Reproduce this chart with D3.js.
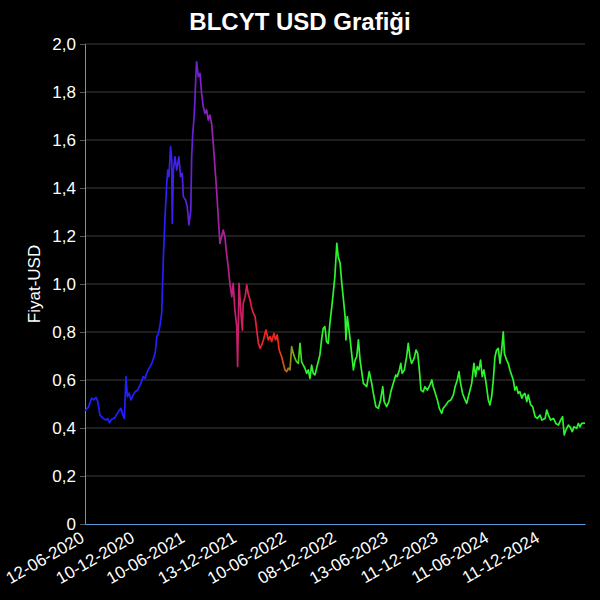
<!DOCTYPE html>
<html><head><meta charset="utf-8">
<script src="https://cdn.jsdelivr.net/npm/d3@7/dist/d3.min.js"></script>
<style>html,body{margin:0;padding:0;background:#000;}svg{display:block;}</style>
</head><body>
<svg id="chart" width="600" height="600"></svg>
<script>
const chartTitle = "BLCYT USD Grafiği";
const yAxisTitle = "Fiyat-USD";
const xTickLabels = ["12-06-2020","10-12-2020","10-06-2021","13-12-2021","10-06-2022","08-12-2022","13-06-2023","11-12-2023","11-06-2024","11-12-2024"];
const yTicks = [0,0.2,0.4,0.6,0.8,1.0,1.2,1.4,1.6,1.8,2.0];
const xDomain = ["2020-06-12","2025-05-22"];

const dates = ["2020-06-12","2020-06-24","2020-07-06","2020-07-14","2020-07-22","2020-07-28","2020-08-05","2020-08-17","2020-08-26","2020-09-02",
"2020-09-08","2020-09-16","2020-09-28","2020-10-10","2020-10-20","2020-10-26","2020-11-01","2020-11-07","2020-11-12","2020-11-18",
"2020-11-25","2020-12-03","2020-12-10","2020-12-19","2020-12-25","2021-01-03","2021-01-08","2021-01-15","2021-01-21","2021-01-26",
"2021-02-02","2021-02-08","2021-02-14","2021-02-20","2021-02-23","2021-02-26","2021-03-04","2021-03-10","2021-03-16","2021-03-22",
"2021-03-28","2021-04-03","2021-04-07","2021-04-11","2021-04-17","2021-04-21","2021-04-23","2021-04-27","2021-05-03","2021-05-09",
"2021-05-17","2021-05-23","2021-05-29","2021-06-02","2021-06-10","2021-06-16","2021-06-22","2021-06-29","2021-07-02","2021-07-06",
"2021-07-10","2021-07-14","2021-07-17","2021-07-20","2021-07-26","2021-08-01","2021-08-07","2021-08-13","2021-08-19","2021-08-25",
"2021-08-31","2021-09-06","2021-09-12","2021-09-18","2021-09-24","2021-09-30","2021-10-06","2021-10-12","2021-10-18","2021-10-24",
"2021-10-30","2021-11-05","2021-11-11","2021-11-17","2021-11-24","2021-11-29","2021-12-05","2021-12-12","2021-12-15","2021-12-20",
"2021-12-26","2022-01-01","2022-01-04","2022-01-11","2022-01-17","2022-01-22","2022-01-29","2022-02-04","2022-02-10","2022-02-16",
"2022-02-22","2022-02-28","2022-03-06","2022-03-12","2022-03-18","2022-03-27","2022-04-05","2022-04-11","2022-04-17","2022-04-25",
"2022-05-01","2022-05-07","2022-05-14","2022-05-23","2022-05-29","2022-06-04","2022-06-10","2022-06-16","2022-06-22","2022-06-28",
"2022-07-04","2022-07-10","2022-07-16","2022-07-22","2022-07-28","2022-08-03","2022-08-09","2022-08-15","2022-08-21","2022-08-27",
"2022-09-02","2022-09-08","2022-09-14","2022-09-20","2022-09-26","2022-10-02","2022-10-08","2022-10-14","2022-10-20","2022-10-26",
"2022-11-01","2022-11-07","2022-11-13","2022-11-20","2022-11-25","2022-12-01","2022-12-08","2022-12-13","2022-12-20","2022-12-26",
"2022-12-31","2023-01-07","2023-01-10","2023-01-15","2023-01-21","2023-01-25","2023-02-06","2023-02-12","2023-02-18","2023-02-24",
"2023-03-02","2023-03-14","2023-03-26","2023-04-04","2023-04-13","2023-04-19","2023-04-28","2023-05-07","2023-05-15","2023-05-23",
"2023-05-28","2023-06-06","2023-06-14","2023-06-21","2023-06-30","2023-07-09","2023-07-14","2023-07-22","2023-07-27","2023-08-01",
"2023-08-09","2023-08-17","2023-08-23","2023-08-29","2023-09-04","2023-09-13","2023-09-20","2023-09-26","2023-10-02","2023-10-08",
"2023-10-16","2023-10-22","2023-10-31","2023-11-09","2023-11-16","2023-11-21","2023-11-27","2023-12-06","2023-12-13","2023-12-22",
"2023-12-27","2024-01-06","2024-01-14","2024-01-24","2024-02-02","2024-02-08","2024-02-16","2024-02-22","2024-02-28","2024-03-06",
"2024-03-15","2024-03-21","2024-03-27","2024-04-02","2024-04-08","2024-04-16","2024-04-22","2024-04-28","2024-05-04","2024-05-10",
"2024-05-16","2024-05-22","2024-05-30","2024-06-07","2024-06-13","2024-06-19","2024-06-25","2024-07-01","2024-07-07","2024-07-13",
"2024-07-19","2024-07-25","2024-07-31","2024-08-04","2024-08-12","2024-08-18","2024-08-24","2024-08-30","2024-09-05","2024-09-11",
"2024-09-17","2024-09-23","2024-09-29","2024-10-06","2024-10-11","2024-10-17","2024-10-24","2024-10-29","2024-11-07","2024-11-14",
"2024-11-23","2024-12-01","2024-12-11","2024-12-17","2024-12-29","2025-01-04","2025-01-10","2025-01-18","2025-01-28","2025-02-06",
"2025-02-15","2025-02-23","2025-03-02","2025-03-08","2025-03-14","2025-03-23","2025-03-29","2025-04-06","2025-04-12","2025-04-22",
"2025-04-28","2025-05-04","2025-05-10","2025-05-22"];

const prices = [0.472,0.486,0.524,0.517,0.528,0.51,0.454,0.44,0.433,0.439,
0.422,0.436,0.443,0.468,0.482,0.457,0.44,0.614,0.53,0.545,
0.517,0.538,0.551,0.558,0.572,0.596,0.614,0.607,0.628,0.642,
0.656,0.669,0.69,0.711,0.739,0.78,0.794,0.83,0.88,1.114,
1.28,1.419,1.475,1.447,1.572,1.517,1.253,1.475,1.53,1.475,
1.53,1.447,1.461,1.364,1.35,1.322,1.246,1.308,1.53,1.628,
1.683,1.767,1.864,1.926,1.864,1.878,1.794,1.739,1.711,1.725,
1.683,1.704,1.669,1.586,1.489,1.392,1.28,1.169,1.197,1.225,
1.197,1.128,1.072,1.003,0.947,1.003,0.892,0.822,0.656,1.003,
0.892,0.808,0.92,0.947,0.996,0.96,0.933,0.899,0.878,0.864,
0.808,0.753,0.732,0.746,0.767,0.808,0.767,0.781,0.76,0.794,
0.767,0.788,0.725,0.697,0.669,0.642,0.635,0.649,0.642,0.739,
0.711,0.69,0.676,0.669,0.753,0.676,0.662,0.649,0.628,0.642,
0.607,0.662,0.628,0.621,0.649,0.676,0.704,0.767,0.815,0.822,
0.76,0.753,0.836,0.906,0.961,1.03,1.169,1.114,1.086,1.003,
0.947,0.864,0.767,0.864,0.808,0.77,0.642,0.683,0.697,0.767,
0.683,0.586,0.572,0.635,0.586,0.544,0.489,0.482,0.517,0.572,
0.51,0.489,0.51,0.551,0.586,0.621,0.614,0.642,0.669,0.628,
0.642,0.697,0.753,0.697,0.669,0.69,0.725,0.711,0.642,0.558,
0.551,0.572,0.558,0.579,0.6,0.572,0.551,0.517,0.482,0.461,
0.482,0.496,0.51,0.517,0.538,0.572,0.6,0.635,0.586,0.544,
0.517,0.503,0.531,0.558,0.586,0.669,0.614,0.656,0.642,0.683,
0.614,0.642,0.586,0.517,0.496,0.531,0.6,0.697,0.725,0.732,
0.669,0.725,0.801,0.711,0.683,0.669,0.642,0.621,0.6,0.558,
0.572,0.544,0.551,0.524,0.538,0.544,0.51,0.538,0.496,0.489,
0.447,0.44,0.454,0.433,0.44,0.475,0.454,0.433,0.44,0.419,
0.412,0.433,0.447,0.371,0.392,0.412,0.405,0.385,0.405,0.399,
0.419,0.405,0.419,0.42];

const colorStopDates = ["2020-06-12","2021-03-10","2021-04-15","2021-06-08","2021-07-25","2021-09-13","2021-10-30","2021-12-24","2022-02-16","2022-03-24","2022-05-10","2022-06-04","2022-06-26","2022-07-17","2022-08-15","2025-05-22"];
const colorStopColors = ["#2020ff","#2020ff","#3820f4","#5520e4","#7820d2","#9820b4","#b02094","#cc2064","#e6203e","#ff2020","#f42a12","#c86012","#909018","#50d020","#2cf52c","#2cf52c"];

const W = 600, H = 600;
const margin = {top: 44, right: 15, bottom: 76, left: 85};
const parseISO = d3.timeParse("%Y-%m-%d");
const parseTick = d3.timeParse("%d-%m-%Y");
const data = dates.map((d, i) => ({date: parseISO(d), value: prices[i]}));

const svg = d3.select("#chart");
svg.append("rect").attr("width", W).attr("height", H).attr("fill", "#000");

const x = d3.scaleTime().domain(xDomain.map(parseISO)).range([margin.left, W - margin.right]);
const y = d3.scaleLinear().domain([0, 2]).range([H - margin.bottom, margin.top]);

const font = "'Liberation Sans', Arial, Helvetica, sans-serif";

// gridlines
svg.append("g").selectAll("line").data(yTicks.filter(t => t > 0)).join("line")
  .attr("x1", margin.left).attr("x2", W - margin.right)
  .attr("y1", d => y(d)).attr("y2", d => y(d))
  .attr("stroke", "#3c3c3c").attr("stroke-width", 1);

// y axis
const fmt = d => d === 0 ? "0" : d3.format(".1f")(d).replace(".", ",");
const yAxis = svg.append("g").attr("transform", `translate(${margin.left},0)`)
  .call(d3.axisLeft(y).tickValues(yTicks).tickFormat(fmt).tickSize(5).tickPadding(4));
yAxis.select(".domain").attr("stroke", "#5b9bd5");
yAxis.selectAll(".tick line").attr("stroke", "#555");
yAxis.selectAll(".tick text").attr("fill", "#fff").style("font-family", font).style("font-size", "17px");

// x axis
const xAxis = svg.append("g").attr("transform", `translate(0,${H - margin.bottom})`)
  .call(d3.axisBottom(x).tickValues(xTickLabels.map(parseTick)).tickFormat(d3.timeFormat("%d-%m-%Y")).tickSize(0).tickPadding(8));
xAxis.select(".domain").attr("stroke", "#5b9bd5");
xAxis.selectAll(".tick text")
  .attr("fill", "#fff").style("font-family", font).style("font-size", "17px")
  .attr("text-anchor", "end").attr("x", 0).attr("y", 0).attr("dy", 0)
  .attr("transform", "translate(0,17) rotate(-30)");

// gradient along time
const defs = svg.append("defs");
const grad = defs.append("linearGradient").attr("id", "lineGrad")
  .attr("gradientUnits", "userSpaceOnUse")
  .attr("x1", margin.left).attr("x2", W - margin.right).attr("y1", 0).attr("y2", 0);
const span = W - margin.right - margin.left;
grad.selectAll("stop").data(colorStopDates).join("stop")
  .attr("offset", d => ((x(parseISO(d)) - margin.left) / span))
  .attr("stop-color", (d, i) => colorStopColors[i]);

const line = d3.line().x(d => x(d.date)).y(d => y(d.value));
svg.append("path").datum(data)
  .attr("d", line).attr("fill", "none")
  .attr("stroke", "url(#lineGrad)").attr("stroke-width", 1.7)
  .attr("stroke-linejoin", "round");

// title
svg.append("text").attr("x", 300).attr("y", 30).attr("text-anchor", "middle")
  .attr("fill", "#fff").style("font-family", font).style("font-size", "24px").style("font-weight", "bold")
  .text(chartTitle);

// y title
svg.append("text").attr("transform", `translate(40,${(margin.top + H - margin.bottom) / 2}) rotate(-90)`)
  .attr("text-anchor", "middle").attr("fill", "#fff")
  .style("font-family", font).style("font-size", "17px").text(yAxisTitle);
</script>
</body></html>
